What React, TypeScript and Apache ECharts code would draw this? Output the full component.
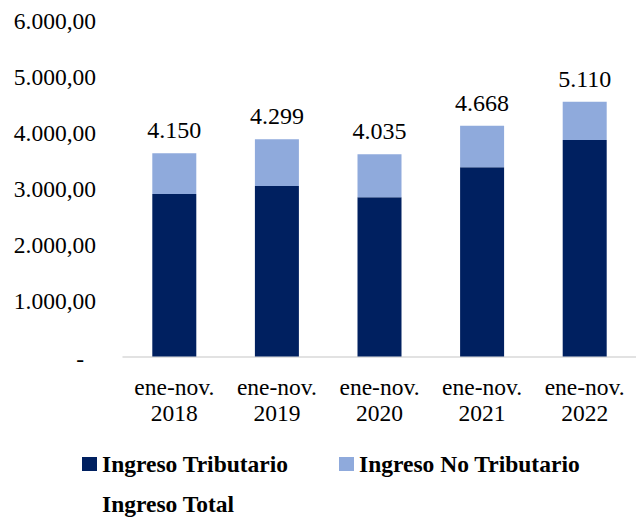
import React, { useEffect, useRef } from "react";
import * as echarts from "echarts";

const categories = ["ene-nov.\n2018", "ene-nov.\n2019", "ene-nov.\n2020", "ene-nov.\n2021", "ene-nov.\n2022"];
const ingresoTributario = [2902, 3045, 2843, 3378, 3866];
const ingresoNoTributario = [727, 834, 768, 743, 684];
const ingresoTotal = [4150, 4299, 4035, 4668, 5110];
const yMin = 0;
const yMax = 6000;
const yInterval = 1000;

const FONT = "Liberation Serif";

function thousands(n: number): string {
  return String(Math.round(n)).replace(/\B(?=(\d{3})+(?!\d))/g, ".");
}

export default function App() {
  const ref = useRef<HTMLDivElement>(null);

  useEffect(() => {
    if (!ref.current) return;
    const chart = echarts.init(ref.current, null, { renderer: "svg" });
    const legendText = { fontFamily: FONT, fontSize: 23.5, fontWeight: "bold", color: "#000" };
    const legendBase = {
      icon: "rect",
      itemWidth: 15,
      itemHeight: 14,
      selectedMode: false,
      textStyle: legendText,
    };
    chart.setOption({
      animation: false,
      backgroundColor: "#ffffff",
      textStyle: { fontFamily: FONT },
      grid: { left: 123, top: 20.5, width: 523, height: 336, containLabel: false },
      xAxis: {
        type: "category",
        data: categories,
        axisLine: { show: true, lineStyle: { color: "#d9d9d9", width: 1.5 } },
        axisTick: { show: false },
        axisLabel: {
          fontFamily: FONT,
          fontSize: 23.5,
          color: "#000",
          lineHeight: 26,
          margin: 17,
          interval: 0,
        },
      },
      yAxis: {
        type: "value",
        min: yMin,
        max: yMax,
        interval: yInterval,
        axisLine: { show: false },
        axisTick: { show: false },
        splitLine: { show: false },
        axisLabel: {
          fontFamily: FONT,
          fontSize: 23.5,
          color: "#000",
          margin: 27,
          formatter: (v: number) => (v === 0 ? "{d|-}" : thousands(v) + ",00"),
          rich: {
            d: { fontFamily: FONT, fontSize: 23.5, color: "#000", padding: [4, 12, 0, 0] },
          },
        },
      },
      legend: [
        { ...legendBase, data: ["Ingreso Tributario"], left: 77, top: 447 },
        { ...legendBase, data: ["Ingreso No Tributario"], left: 334, top: 447 },
        { ...legendBase, data: ["Ingreso Total"], left: 77, top: 487 },
      ],
      series: [
        {
          name: "Ingreso Tributario",
          type: "bar",
          stack: "total",
          barWidth: 44,
          data: ingresoTributario,
          itemStyle: { color: "#002060" },
        },
        {
          name: "Ingreso No Tributario",
          type: "bar",
          stack: "total",
          barWidth: 44,
          data: ingresoNoTributario,
          itemStyle: { color: "#8FAADC" },
        },
        {
          name: "Ingreso Total",
          type: "bar",
          stack: "total",
          barWidth: 44,
          data: ingresoTotal.map((t) => ({ value: 0, total: t })),
          itemStyle: { color: "rgba(0,0,0,0)" },
          label: {
            show: true,
            position: "top",
            distance: 11,
            fontFamily: FONT,
            fontSize: 24,
            color: "#000",
            formatter: (p: any) => thousands(p.data.total),
          },
        },
      ],
    });
    return () => chart.dispose();
  }, []);

  return (
    <div
      ref={ref}
      style={{ position: "absolute", left: 0, top: 0, width: 636, height: 518, background: "#fff" }}
    />
  );
}
